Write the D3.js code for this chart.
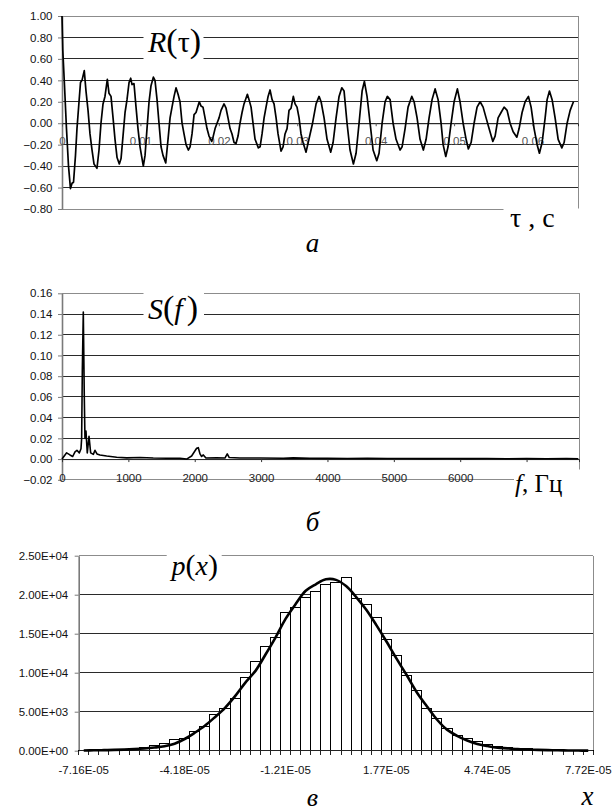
<!DOCTYPE html>
<html>
<head>
<meta charset="utf-8">
<script src="https://cdn.jsdelivr.net/npm/d3@7"></script>
<style>
body { margin: 0; background: #fff; }
svg text { font-family: "Liberation Sans", Arial, sans-serif; }
svg text.serif { font-family: "Liberation Serif", "Times New Roman", "DejaVu Serif", serif; }
</style>
</head>
<body>
<svg id="fig" width="613" height="812"></svg>
<script>
// --- a: autocorrelation R(tau), tau in seconds
var rTau = [0, 0.0001, 0.00032, 0.00057, 0.00083, 0.00108, 0.00128, 0.00147, 0.00172, 0.00191,
  0.00217, 0.00236, 0.00255, 0.00284, 0.00306, 0.00332, 0.00357, 0.00383, 0.00408, 0.00427,
  0.00446, 0.00472, 0.00497, 0.00523, 0.00548, 0.00578, 0.00599, 0.00625, 0.00651, 0.00676,
  0.00702, 0.00731, 0.00753, 0.00778, 0.00804, 0.00829, 0.00855, 0.00876, 0.00893, 0.00918,
  0.00944, 0.00969, 0.00995, 0.01037, 0.01059, 0.01084, 0.01110, 0.01135, 0.01165, 0.01186,
  0.01212, 0.01237, 0.01263, 0.01288, 0.01323, 0.01352, 0.01378, 0.01403, 0.01429, 0.01454,
  0.01480, 0.01505, 0.01531, 0.01556, 0.01582, 0.01611, 0.01633, 0.01658, 0.01684, 0.01709,
  0.01751, 0.01773, 0.01798, 0.01824, 0.01849, 0.01875, 0.01909, 0.01926, 0.01952, 0.01977,
  0.02003, 0.02028, 0.02066, 0.02092, 0.02117, 0.02143, 0.02168, 0.02194, 0.02219, 0.02245,
  0.02270, 0.02296, 0.02321, 0.02364, 0.02385, 0.02411, 0.02436, 0.02462, 0.02504, 0.02526,
  0.02551, 0.02577, 0.02602, 0.02628, 0.02653, 0.02679, 0.02704, 0.02730, 0.02755, 0.02793,
  0.02819, 0.02844, 0.02870, 0.02895, 0.02921, 0.02950, 0.02972, 0.02997, 0.03023, 0.03048,
  0.03074, 0.03112, 0.03195, 0.03240, 0.03278, 0.03304, 0.03342, 0.03380, 0.03427, 0.03457,
  0.03495, 0.03533, 0.03568, 0.03597, 0.03635, 0.03673, 0.03716, 0.03750, 0.03788, 0.03827,
  0.03856, 0.03890, 0.03929, 0.03967, 0.04014, 0.04043, 0.04082, 0.04120, 0.04149, 0.04184,
  0.04222, 0.04260, 0.04311, 0.04337, 0.04375, 0.04413, 0.04460, 0.04490, 0.04528, 0.04566,
  0.04608, 0.04643, 0.04681, 0.04719, 0.04758, 0.04796, 0.04834, 0.04860, 0.04894, 0.04923,
  0.04962, 0.05000, 0.05042, 0.05076, 0.05115, 0.05153, 0.05182, 0.05217, 0.05255, 0.05293,
  0.05332, 0.05370, 0.05408, 0.05446, 0.05494, 0.05523, 0.05561, 0.05599, 0.05638, 0.05676,
  0.05714, 0.05753, 0.05800, 0.05829, 0.05867, 0.05906, 0.05948, 0.05982, 0.06020, 0.06059,
  0.06088, 0.06122, 0.06161, 0.06186, 0.06216, 0.06250, 0.06288, 0.06327, 0.06374, 0.06403,
  0.06441, 0.06480, 0.06522];
var rVal = [1.00, 0.68, 0.35, -0.05, -0.40, -0.61, -0.56, -0.55, -0.30, -0.05,
  0.20, 0.38, 0.40, 0.49, 0.30, 0.12, -0.10, -0.25, -0.38, -0.40,
  -0.42, -0.25, 0.00, 0.18, 0.25, 0.41, 0.28, 0.25, 0.05, -0.15,
  -0.32, -0.38, -0.33, -0.12, 0.10, 0.22, 0.38, 0.42, 0.36, 0.37,
  0.15, -0.05, -0.22, -0.40, -0.30, -0.05, 0.20, 0.35, 0.43, 0.40,
  0.22, 0.00, -0.22, -0.30, -0.37, -0.15, 0.05, 0.15, 0.25, 0.33,
  0.27, 0.20, 0.00, -0.10, -0.20, -0.25, -0.22, -0.10, 0.08, 0.10,
  0.20, 0.16, 0.15, 0.05, -0.05, -0.12, -0.17, -0.13, -0.05, 0.00,
  0.05, 0.12, 0.18, 0.14, 0.05, -0.05, -0.10, -0.18, -0.19, -0.12,
  0.00, 0.10, 0.18, 0.27, 0.22, 0.15, 0.00, -0.15, -0.23, -0.22,
  -0.10, 0.05, 0.15, 0.25, 0.31, 0.22, 0.18, 0.05, -0.10, -0.26,
  -0.22, -0.10, -0.05, 0.12, 0.14, 0.25, 0.18, 0.15, 0.05, -0.10,
  -0.18, -0.27, 0.00, 0.18, 0.25, 0.20, 0.05, -0.15, -0.27, -0.18,
  0.05, 0.25, 0.33, 0.30, 0.00, -0.25, -0.38, -0.28, 0.00, 0.30,
  0.39, 0.25, 0.00, -0.25, -0.35, -0.28, 0.00, 0.20, 0.25, 0.22,
  0.00, -0.15, -0.25, -0.22, -0.05, 0.15, 0.25, 0.20, 0.05, -0.15,
  -0.25, -0.15, 0.05, 0.22, 0.32, 0.22, 0.00, -0.20, -0.31, -0.22,
  0.00, 0.20, 0.32, 0.20, 0.00, -0.15, -0.24, -0.18, 0.00, 0.15,
  0.20, 0.15, 0.05, -0.05, -0.17, -0.12, 0.05, 0.10, 0.15, 0.12,
  0.00, -0.08, -0.13, -0.05, 0.10, 0.20, 0.25, 0.15, -0.05, -0.20,
  -0.28, -0.18, 0.05, 0.22, 0.30, 0.22, 0.05, -0.15, -0.23, -0.18,
  0.00, 0.12, 0.20];
var rYTicks = [-0.8, -0.6, -0.4, -0.2, 0, 0.2, 0.4, 0.6, 0.8, 1.0];
var rXTicks = [0, 0.01, 0.02, 0.03, 0.04, 0.05, 0.06];

// --- б: spectrum S(f), f in Hz
var sFreq = [0, 45, 70, 120, 161, 196, 225, 261, 286, 296, 306, 321, 336, 346, 361, 381, 407, 432,
  472, 497, 527, 572, 673, 824, 975, 1175, 1375, 1577, 1777, 1878, 1953, 2029, 2054, 2079, 2104,
  2129, 2169, 2330, 2455, 2490, 2520, 2681, 2982, 3334, 3485, 3735, 4000, 4300, 4600, 4900, 5200,
  5500, 5800, 6100, 6400, 6700, 7000, 7300, 7600, 7780];
var sVal = [0, 0.004, 0.006, 0.004, 0.0025, 0.007, 0.0085, 0.006, 0.01, 0.02, 0.085, 0.142, 0.06,
  0.02, 0.027, 0.006, 0.022, 0.006, 0.0045, 0.0085, 0.005, 0.004, 0.003, 0.0018, 0.0012, 0.0015,
  0.001, 0.0008, 0.0008, 0.0, 0.003, 0.0104, 0.011, 0.005, 0.0025, 0.004, 0.001, 0.0012, 0.001,
  0.005, 0.0015, 0.001, 0.001, 0.0008, 0.0012, 0.0008, 0.0007, 0.0006, 0.0008, 0.0005, 0.0006,
  0.0004, 0.0005, 0.0004, 0.0005, 0.0003, 0.0004, 0.0003, 0.0004, 0.0003];
var sYTicks = [-0.02, 0, 0.02, 0.04, 0.06, 0.08, 0.10, 0.12, 0.14, 0.16];
var sXTicks = [0, 1000, 2000, 3000, 4000, 5000, 6000, 7000];

// --- в: histogram p(x) with fitted curve, 51 bins
var histCounts = [50, 60, 80, 120, 170, 250, 350, 700, 950, 1460, 1590, 2400, 3080, 4660, 5440,
  6720, 9400, 11400, 13400, 14540, 17700, 18380, 19660, 20470, 21330, 21540, 22230, 19540, 18770,
  17050, 14320, 12180, 9700, 7690, 5440, 4150, 2870, 1920, 1590, 1150, 820, 510, 430, 300, 250,
  200, 150, 100, 60, 40, 20];
var fitCurve = [30, 50, 70, 100, 140, 200, 280, 400, 570, 900, 1500, 2300, 3200, 4300, 5500, 7000,
  8700, 10200, 12300, 14500, 16900, 18800, 20500, 21330, 21970, 21900, 21100, 19700, 18070, 16100,
  14000, 11800, 9700, 7500, 5700, 4000, 2700, 1900, 1300, 860, 600, 390, 300, 200, 150, 100, 70,
  50, 30, 20, 10];
var histXLabels = ["-7.16E-05", "-4.18E-05", "-1.21E-05", "1.77E-05", "4.74E-05", "7.72E-05"];
var histLabelEvery = 10;
var histYTicks = [0, 5000, 10000, 15000, 20000, 25000];
var histYLabels = ["0.00E+00", "5.00E+03", "1.00E+04", "1.50E+04", "2.00E+04", "2.50E+04"];

var gridColor = "#2a2a2a", borderColor = "#8c8c8c", axisColor = "#7a7a7a";
var serifFont = "'Liberation Serif', 'Times New Roman', 'DejaVu Serif', serif";
var svg = d3.select("#fig");

// gridlines + gray frame + left axis, common to the three panels
function frame(g, x0, x1, y, ticks, labelFmt, pad) {
  var lo = d3.min(ticks), hi = d3.max(ticks);
  g.append("g").selectAll("line").data(ticks.filter(function(t){ return t != lo && t != hi; }))
    .enter().append("line")
      .attr("x1", x0).attr("x2", x1)
      .attr("y1", function(d){ return y(d); }).attr("y2", function(d){ return y(d); })
      .attr("stroke", gridColor).attr("shape-rendering", "crispEdges");
  [lo, hi].forEach(function(t) {
    g.append("line").attr("x1", x0).attr("x2", x1).attr("y1", y(t)).attr("y2", y(t))
      .attr("stroke", borderColor).attr("shape-rendering", "crispEdges");
  });
  g.append("line").attr("x1", x1).attr("x2", x1).attr("y1", y(hi)).attr("y2", y(lo))
    .attr("stroke", borderColor).attr("shape-rendering", "crispEdges");
  var ax = g.append("g").attr("transform", "translate(" + x0 + ",0)")
    .call(d3.axisLeft(y).tickValues(ticks).tickFormat(labelFmt).tickSize(4).tickSizeOuter(0).tickPadding(pad));
  ax.select(".domain").attr("stroke", axisColor).attr("stroke-width", 1.6);
  ax.selectAll(".tick line").attr("stroke", axisColor);
  ax.selectAll("text").attr("font-size", "11.5px").attr("fill", "#111");
  return ax;
}

function labelBox(x, y, w, h) {
  svg.append("rect").attr("x", x).attr("y", y).attr("width", w).attr("height", h).attr("fill", "#fff");
}

function serifText(x, y, size) {
  return svg.append("text").attr("class", "serif").attr("font-family", serifFont)
    .attr("x", x).attr("y", y).attr("font-size", size);
}

// ---------------- a ----------------
var xA = d3.scaleLinear().domain([0, 0.0658]).range([62, 578]);
var yA = d3.scaleLinear().domain([-0.8, 1.0]).range([209, 16]);
var gA = svg.append("g");
frame(gA, 62, 578, yA, rYTicks, d3.format(".2f"), 5.5);
var axA = gA.append("g").attr("transform", "translate(0," + yA(0) + ")")
  .call(d3.axisBottom(xA).tickValues(rXTicks).tickSize(3).tickPadding(11)
    .tickFormat(function(d){ return d === 0 ? "0" : d3.format(".2f")(d); }));
axA.select(".domain").attr("stroke", gridColor);
axA.selectAll(".tick line").attr("stroke", "#555");
axA.selectAll("text").attr("font-size", "11.5px").attr("fill", "#555");
gA.append("path").datum(d3.range(rTau.length))
  .attr("fill", "none").attr("stroke", "#000").attr("stroke-width", 1.7).attr("stroke-linejoin", "round")
  .attr("d", d3.line().x(function(i){ return xA(rTau[i]); }).y(function(i){ return yA(rVal[i]); }));

labelBox(143.5, 22, 60, 46);
var tR = serifText(148, 52, "30px");
tR.append("tspan").attr("font-style", "italic").text("R");
tR.append("tspan").attr("font-size", "34px").text("(");
tR.append("tspan").text("τ");
tR.append("tspan").attr("font-size", "34px").text(")");
labelBox(503.5, 208.5, 90, 28);
serifText(510, 227, "28px").text("τ , с");
serifText(312.5, 252, "27px").attr("text-anchor", "middle").attr("font-style", "italic").text("а");

// ---------------- б ----------------
var xB = d3.scaleLinear().domain([0, 7790]).range([62, 579]);
var yB = d3.scaleLinear().domain([-0.02, 0.16]).range([479.8, 293.3]);
var gB = svg.append("g");
frame(gB, 62, 579, yB, sYTicks, d3.format(".2f"), 5.5);
var axB = gB.append("g").attr("transform", "translate(0," + yB(0) + ")")
  .call(d3.axisBottom(xB).tickValues(sXTicks).tickSize(3).tickPadding(11.5).tickFormat(d3.format("d")));
axB.select(".domain").attr("stroke", gridColor);
axB.selectAll(".tick line").attr("stroke", "#333");
axB.selectAll("text").attr("font-size", "11.5px").attr("fill", "#222");
gB.append("path").datum(d3.range(sFreq.length))
  .attr("fill", "none").attr("stroke", "#000").attr("stroke-width", 1.6).attr("stroke-linejoin", "round")
  .attr("d", d3.line().x(function(i){ return xB(sFreq[i]); }).y(function(i){ return yB(sVal[i]); }));

labelBox(143.5, 284, 60.5, 42);
var tS = serifText(148, 318.5, "30px");
tS.append("tspan").attr("font-style", "italic").text("S");
tS.append("tspan").attr("font-size", "34px").text("(");
tS.append("tspan").attr("font-style", "italic").text("f");
tS.append("tspan").attr("font-size", "34px").attr("dx", "4").text(")");
labelBox(514, 469.5, 80, 30);
var tF = serifText(515, 492, "25px");
tF.append("tspan").attr("font-style", "italic").text("f");
tF.append("tspan").text(", Гц");
serifText(312.5, 531, "27px").attr("text-anchor", "middle").attr("font-style", "italic").text("б");

// ---------------- в ----------------
var xC = d3.scaleBand().domain(d3.range(histCounts.length)).range([78.7, 593.3]).padding(0);
var yC = d3.scaleLinear().domain([0, 25000]).range([750.7, 555.7]);
var gC = svg.append("g");
frame(gC, 78.7, 593.3, yC, histYTicks, function(d, i){ return histYLabels[i]; }, 6.5);
gC.append("g").selectAll("rect").data(histCounts).enter().append("rect")
  .attr("x", function(d, i){ return xC(i); })
  .attr("y", function(d){ return yC(d); })
  .attr("width", xC.bandwidth())
  .attr("height", function(d){ return yC(0) - yC(d); })
  .attr("fill", "#fff").attr("stroke", "#000").attr("stroke-width", 1)
  .attr("shape-rendering", "crispEdges");
gC.append("line").attr("x1", 78.7).attr("x2", 593.3).attr("y1", yC(0)).attr("y2", yC(0))
  .attr("stroke", "#222").attr("shape-rendering", "crispEdges");
gC.append("g").selectAll("line").data(d3.range(histCounts.length + 1)).enter().append("line")
  .attr("x1", function(i){ return i < histCounts.length ? xC(i) : xC.range()[1]; })
  .attr("x2", function(i){ return i < histCounts.length ? xC(i) : xC.range()[1]; })
  .attr("y1", yC(0)).attr("y2", yC(0) + 4)
  .attr("stroke", "#222").attr("shape-rendering", "crispEdges");
gC.append("g").selectAll("text").data(histXLabels).enter().append("text")
  .attr("x", function(d, k){ return xC(k * histLabelEvery) + xC.bandwidth() / 2; })
  .attr("y", yC(0) + 23).attr("text-anchor", "middle")
  .attr("font-size", "11.5px").attr("fill", "#111").text(function(d){ return d; });
gC.append("path").datum(d3.range(fitCurve.length))
  .attr("fill", "none").attr("stroke", "#000").attr("stroke-width", 2.6)
  .attr("d", d3.line().curve(d3.curveCatmullRom)
    .x(function(i){ return xC(i) + xC.bandwidth() / 2; }).y(function(i){ return yC(fitCurve[i]); }));

labelBox(166.7, 546, 55, 38);
var tP = serifText(171.5, 575, "28px");
tP.append("tspan").attr("font-style", "italic").text("p");
tP.append("tspan").attr("font-size", "30px").text("(");
tP.append("tspan").attr("font-style", "italic").text("x");
tP.append("tspan").attr("font-size", "30px").text(")");
serifText(312.5, 806, "26px").attr("text-anchor", "middle").attr("font-style", "italic").text("в");
serifText(581.5, 805, "27px").attr("font-style", "italic").text("x");
</script>
</body>
</html>
